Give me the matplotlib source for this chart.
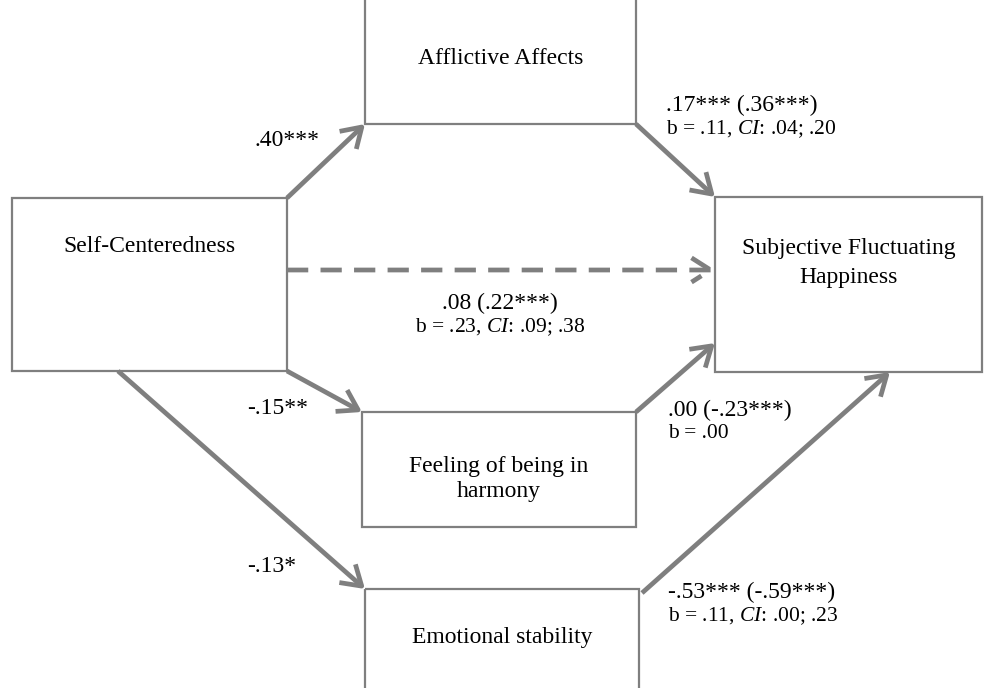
import matplotlib.pyplot as plt
from matplotlib.patches import Rectangle, FancyArrowPatch

plt.rcParams['font.family'] = ['Liberation Serif', 'DejaVu Serif']
plt.rcParams['mathtext.fontset'] = 'custom'
plt.rcParams['mathtext.it'] = 'Liberation Serif:italic'
plt.rcParams['mathtext.rm'] = 'Liberation Serif'

GRAY = '#7f7f7f'

# boxes: (left, top, right, bottom) in pixel space of the picture
box_rects = [(365, -5, 636, 124), (12, 198, 287, 371), (715, 197, 982, 372),
             (362, 412, 636, 527), (365, 589, 639, 700)]
box_labels = ['Afflictive Affects', 'Self-Centeredness',
              'Subjective Fluctuating\nHappiness',
              'Feeling of being in\nharmony', 'Emotional stability']
box_label_y = [58, 247, 263, 479, 638]
box_spacing = [1.2, 1.2, 1.45, 1.3, 1.2]

# paths: start -> end, dashed?
path_starts = [(287, 198), (636, 124), (287, 270), (287, 371), (636, 412),
               (118, 371), (642, 593)]
path_ends = [(365, 124), (715, 197), (715, 270), (362, 412), (715, 343),
             (365, 589), (890, 372)]
path_dashed = [False, False, True, False, False, False, False]

# coefficients
coef_x = [255, 666, 500, 247, 668, 247, 668]
coef_y = [141, 105, 303, 408, 410, 567, 592]
coef_main = ['.40***', '.17*** (.36***)', '.08 (.22***)', '-.15**',
             '.00 (-.23***)', '-.13*', '-.53*** (-.59***)']
coef_b = [None, r'b = .11, $\mathit{CI}$: .04; .20',
          r'b = .23, $\mathit{CI}$: .09; .38', None, 'b = .00', None,
          r'b = .11, $\mathit{CI}$: .00; .23']
coef_ha = ['left', 'left', 'center', 'left', 'left', 'left', 'left']

fig = plt.figure(figsize=(9.92, 6.88), dpi=100)
ax = fig.add_axes([0, 0, 1, 1])
ax.set_xlim(0, 992)
ax.set_ylim(688, 0)
ax.axis('off')

for (l, t, r, b), lab, ly, sp in zip(box_rects, box_labels, box_label_y, box_spacing):
    ax.add_patch(Rectangle((l, t), r - l, b - t, fill=False,
                           edgecolor=GRAY, linewidth=1.6, zorder=2))
    ax.text((l + r) / 2, ly, lab, ha='center', va='center', fontsize=17,
            linespacing=sp, zorder=3)

for s, e, d in zip(path_starts, path_ends, path_dashed):
    arr = FancyArrowPatch(s, e, arrowstyle='->,head_length=0.55,head_width=0.35',
                          mutation_scale=25, color=GRAY, linewidth=3.4,
                          linestyle=(0, (4.5, 2.6)) if d else '-',
                          shrinkA=0, shrinkB=0, zorder=4,
                          capstyle='butt', joinstyle='round')
    ax.add_patch(arr)

for x, y, m, bl, ha in zip(coef_x, coef_y, coef_main, coef_b, coef_ha):
    ax.text(x, y, m, ha=ha, va='center', fontsize=17, zorder=5)
    if bl is not None:
        ax.text(x, y + 24, bl, ha=ha, va='center', fontsize=15.5, zorder=5)

fig.savefig('out.png', dpi=100)
